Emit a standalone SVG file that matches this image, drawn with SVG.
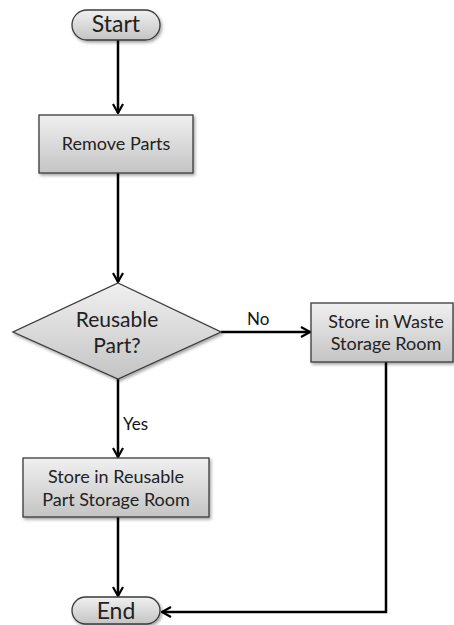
<svg xmlns="http://www.w3.org/2000/svg" width="454" height="625" viewBox="0 0 454 625">
  <defs>
    <linearGradient id="fillGrad" x1="0" y1="0" x2="0" y2="1">
      <stop offset="0" stop-color="#f0f0f0"/>
      <stop offset="1" stop-color="#c4c4c4"/>
    </linearGradient>
    <filter id="shadow" x="-10%" y="-10%" width="130%" height="140%">
      <feDropShadow dx="1.5" dy="2" stdDeviation="1.5" flood-color="#000" flood-opacity="0.35"/>
    </filter>
    <marker id="arrow" viewBox="0 0 12 12" refX="11" refY="6" markerWidth="12" markerHeight="12" markerUnits="userSpaceOnUse" orient="auto">
      <path d="M2,1 L11,6 L2,11" fill="none" stroke="#000" stroke-width="2.2"/>
    </marker>
  </defs>
  <style>
    .shape { fill: url(#fillGrad); stroke: #3a3a3a; stroke-width: 1.3; filter: url(#shadow); }
    .label { font-family: Lato, "Open Sans", "Liberation Sans", sans-serif; fill: #222; text-anchor: middle; }
    .edge { fill: none; stroke: #000; stroke-width: 2.5; marker-end: url(#arrow); }
    .edge-label { font-family: Lato, "Open Sans", "Liberation Sans", sans-serif; fill: #111; font-size: 17px; }
  </style>
  <rect width="454" height="625" fill="#fff"/>

  <g id="connectors">
    <path class="edge" d="M118,40 L118,113"/>
    <path class="edge" d="M118,173 L118,282"/>
    <path class="edge" d="M221,332 L310,332"/>
    <path class="edge" d="M118,379 L118,457"/>
    <path class="edge" d="M118,517 L118,596"/>
    <path class="edge" d="M386,362 L386,612 L162,612"/>
    <text class="edge-label" x="247" y="325">No</text>
    <text class="edge-label" x="123" y="430">Yes</text>
  </g>

  <g id="start">
    <rect class="shape" x="72" y="10" width="88" height="30" rx="15" ry="15"/>
    <text class="label" x="116" y="32" font-size="23">Start</text>
  </g>

  <g id="remove-parts">
    <rect class="shape" x="39" y="115" width="154" height="58"/>
    <text class="label" x="116" y="150" font-size="18">Remove Parts</text>
  </g>

  <g id="reusable-decision">
    <polygon class="shape" points="118,283 221,332 118,379 13,332"/>
    <text class="label" x="117" y="327" font-size="21">Reusable</text>
    <text class="label" x="117" y="353" font-size="21">Part?</text>
  </g>

  <g id="waste-storage">
    <rect class="shape" x="311" y="303" width="142" height="59"/>
    <text class="label" x="386" y="328" font-size="18">Store in Waste</text>
    <text class="label" x="386" y="350" font-size="18">Storage Room</text>
  </g>

  <g id="reusable-storage">
    <rect class="shape" x="23" y="458" width="186" height="59"/>
    <text class="label" x="116" y="483" font-size="18">Store in Reusable</text>
    <text class="label" x="116" y="506" font-size="18">Part Storage Room</text>
  </g>

  <g id="end">
    <rect class="shape" x="72" y="597" width="88" height="27" rx="13.5" ry="13.5"/>
    <text class="label" x="116" y="619" font-size="23">End</text>
  </g>
</svg>
